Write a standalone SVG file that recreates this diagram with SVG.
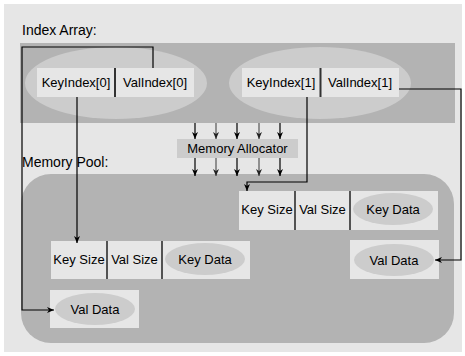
<svg xmlns="http://www.w3.org/2000/svg" width="465" height="356" viewBox="0 0 465 356">
<defs>
<style>
text{font-family:"Liberation Sans",Arial,sans-serif;fill:#000}
.t{font-size:13px}
.h{font-size:14px}
.box{fill:#e6e6e6}
.ell{fill:#cccccc}
.div{stroke:#222;stroke-width:1.5}
.divb{stroke:#333;stroke-width:2}
.c{fill:none;stroke:#000;stroke-width:1.2}
.g{fill:none;stroke:#555;stroke-width:1.2}
</style>
<marker id="a" markerWidth="8" markerHeight="8" refX="7" refY="4" orient="auto" markerUnits="userSpaceOnUse">
<path d="M0,1 L7,4 L0,7 L2,4 Z" fill="#000"/>
</marker>
<marker id="ag" markerWidth="8" markerHeight="8" refX="7" refY="4" orient="auto" markerUnits="userSpaceOnUse">
<path d="M0,1 L7,4 L0,7 L2,4 Z" fill="#222"/>
</marker>
</defs>
<rect x="4" y="4" width="458" height="348" fill="#e6e6e6"/>
<text class="h" x="22" y="35">Index Array:</text>
<rect x="20" y="43" width="435" height="80" fill="#b3b3b3"/>
<text class="h" x="22" y="167">Memory Pool:</text>
<rect x="21" y="174" width="433" height="169" rx="30" fill="#b3b3b3"/>

<g id="index0">
<ellipse class="ell" cx="116" cy="83" rx="91" ry="36"/>
<rect class="box" x="37" y="68" width="157" height="29"/>
<line class="divb" x1="115" y1="68" x2="115" y2="97"/>
<text class="t" x="76" y="87" text-anchor="middle">KeyIndex[0]</text>
<text class="t" x="155" y="87" text-anchor="middle">ValIndex[0]</text>
</g>
<g id="index1">
<ellipse class="ell" cx="320" cy="83" rx="91" ry="36"/>
<rect class="box" x="242" y="68" width="157" height="29"/>
<line class="divb" x1="320.5" y1="68" x2="320.5" y2="97"/>
<text class="t" x="281" y="87" text-anchor="middle">KeyIndex[1]</text>
<text class="t" x="360" y="87" text-anchor="middle">ValIndex[1]</text>
</g>
<g id="allocator">
<rect x="177" y="139" width="121" height="19" fill="#cccccc"/>
<text class="t" x="237.5" y="153" text-anchor="middle">Memory Allocator</text>
</g>
<g id="record1">
<rect class="box" x="239" y="191" width="199" height="39"/>
<line class="div" x1="295" y1="191" x2="295" y2="230"/>
<line class="div" x1="350" y1="191" x2="350" y2="230"/>
<ellipse class="ell" cx="393" cy="209" rx="40" ry="16"/>
<text class="t" x="267" y="214" text-anchor="middle">Key Size</text>
<text class="t" x="322.5" y="214" text-anchor="middle">Val Size</text>
<text class="t" x="393" y="214" text-anchor="middle">Key Data</text>
</g>
<g id="record0">
<rect class="box" x="51" y="241" width="199" height="38"/>
<line class="div" x1="107" y1="241" x2="107" y2="279"/>
<line class="div" x1="162" y1="241" x2="162" y2="279"/>
<ellipse class="ell" cx="205" cy="259" rx="40" ry="16"/>
<text class="t" x="79" y="264" text-anchor="middle">Key Size</text>
<text class="t" x="134.5" y="264" text-anchor="middle">Val Size</text>
<text class="t" x="205" y="264" text-anchor="middle">Key Data</text>
</g>
<g id="val1">
<rect class="box" x="350" y="240" width="89" height="39"/>
<ellipse class="ell" cx="394" cy="260" rx="40" ry="16"/>
<text class="t" x="394" y="265" text-anchor="middle">Val Data</text>
</g>
<g id="val0">
<rect class="box" x="50" y="290" width="89" height="38"/>
<ellipse class="ell" cx="95" cy="309" rx="40" ry="16"/>
<text class="t" x="95" y="314" text-anchor="middle">Val Data</text>
</g>

<g id="connectors">
<path class="c" d="M153,68 V47 H22 V310 H54" marker-end="url(#a)"/>
<path class="c" d="M77,97 V243" marker-end="url(#a)"/>
<path class="c" d="M307,97 V182 H247 V191" marker-end="url(#a)"/>
<path class="c" d="M399,89 H461 V260 H435" marker-end="url(#a)"/>
<path class="c" d="M195,123 V139" marker-end="url(#a)"/>
<path class="g" d="M216,123 V139" marker-end="url(#ag)"/>
<path class="c" d="M237,123 V139" marker-end="url(#a)"/>
<path class="g" d="M259,123 V139" marker-end="url(#ag)"/>
<path class="c" d="M280,123 V139" marker-end="url(#a)"/>
<path class="c" d="M195,158 V176" marker-end="url(#a)"/>
<path class="g" d="M216,158 V176" marker-end="url(#ag)"/>
<path class="c" d="M237,158 V176" marker-end="url(#a)"/>
<path class="g" d="M259,158 V176" marker-end="url(#ag)"/>
<path class="c" d="M280,158 V176" marker-end="url(#a)"/>
</g>
</svg>
